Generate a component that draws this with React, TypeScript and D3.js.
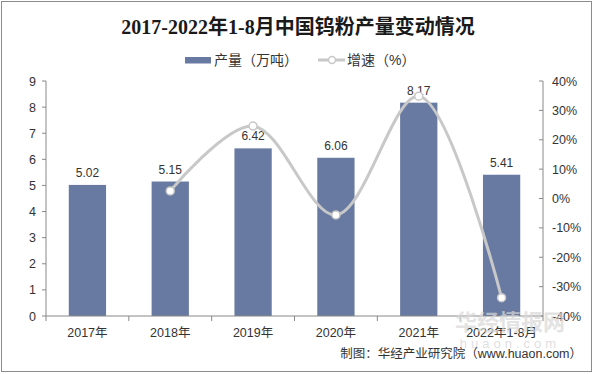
import React from 'react';
import * as d3 from 'd3';

const categories = ['2017年', '2018年', '2019年', '2020年', '2021年', '2022年1-8月'];
const output = [5.02, 5.15, 6.42, 6.06, 8.17, 5.41];
const growth = [null, 2.59, 24.66, -5.61, 34.82, -33.78];
const leftTicks = [0, 1, 2, 3, 4, 5, 6, 7, 8, 9];
const rightTicks = [-40, -30, -20, -10, 0, 10, 20, 30, 40];

const W = 595;
const H = 374;
const plot = { left: 46, right: 543, top: 81, bottom: 316 };
const barColor = '#687aa1';
const lineColor = '#c8c8c8';
const sans = 'Arial, "Liberation Sans", "Noto Sans CJK SC", sans-serif';
const serif = '"Liberation Serif", "DejaVu Serif", "Noto Sans CJK SC", serif';

const App: React.FC = () => {
  const x = d3.scaleBand<string>().domain(categories).range([plot.left, plot.right]).paddingInner(0.55).paddingOuter(0.275);
  const yL = d3.scaleLinear().domain([0, 9]).range([plot.bottom, plot.top]);
  const yR = d3.scaleLinear().domain([-40, 40]).range([plot.bottom, plot.top]);
  const step = x.step();
  const cx = (c: string) => (x(c) ?? 0) + x.bandwidth() / 2;

  const pts = categories
    .map((c, i) => ({ c, v: growth[i] }))
    .filter(d => d.v !== null) as { c: string; v: number }[];

  const line = d3.line<{ c: string; v: number }>()
    .x(d => cx(d.c))
    .y(d => yR(d.v))
    .curve(d3.curveCatmullRom.alpha(0.5));

  return (
    <svg width={W} height={H} style={{ position: 'absolute', left: 0, top: 0, background: '#fff' }}>
      <rect x={1.5} y={1.5} width={W - 5} height={H - 4} fill="#fff" stroke="#8c8c8c" strokeWidth={1} />
      <text x={298} y={34} textAnchor="middle" fontFamily={serif} fontSize={20} fontWeight="bold" fill="#1a1a1a">
        2017-2022年1-8月中国钨粉产量变动情况
      </text>

      {/* legend */}
      <rect x={185} y={57} width={26} height={6.5} fill={barColor} />
      <text x={214} y={65} fontFamily={sans} fontSize={14} fill="#333">产量（万吨）</text>
      <line x1={318} y1={60} x2={345} y2={60} stroke={lineColor} strokeWidth={3} />
      <circle cx={332} cy={60} r={3.5} fill="#fff" stroke={lineColor} strokeWidth={1.5} />
      <text x={347} y={65} fontFamily={sans} fontSize={14} fill="#333">增速（%）</text>

      {/* bars */}
      {categories.map((c, i) => (
        <g key={c}>
          <rect x={x(c)} y={yL(output[i])} width={x.bandwidth()} height={plot.bottom - yL(output[i])} fill={barColor} />
          <text x={cx(c)} y={yL(output[i]) - 8} textAnchor="middle" fontFamily={sans} fontSize={12} fill="#333">
            {output[i].toFixed(2)}
          </text>
        </g>
      ))}

      {/* left axis */}
      <line x1={plot.left} y1={plot.top} x2={plot.left} y2={plot.bottom} stroke="#888" />
      {leftTicks.map(t => (
        <g key={t}>
          <line x1={plot.left - 4} x2={plot.left} y1={yL(t)} y2={yL(t)} stroke="#888" />
          <text x={36} y={yL(t) + 4.5} textAnchor="end" fontFamily={sans} fontSize={12.5} fill="#333">{t}</text>
        </g>
      ))}

      {/* right axis */}
      <line x1={plot.right} y1={plot.top} x2={plot.right} y2={plot.bottom} stroke="#888" />
      {rightTicks.map(t => (
        <g key={t}>
          <line x1={plot.right - 4} x2={plot.right} y1={yR(t)} y2={yR(t)} stroke="#888" />
          <text x={552} y={yR(t) + 4.5} textAnchor="start" fontFamily={sans} fontSize={12.5} fill="#333">{t}%</text>
        </g>
      ))}

      {/* x axis */}
      <line x1={plot.left} y1={plot.bottom} x2={plot.right} y2={plot.bottom} stroke="#888" />
      {d3.range(categories.length + 1).map(i => (
        <line key={i} x1={plot.left + i * step} x2={plot.left + i * step} y1={plot.bottom} y2={plot.bottom + 5} stroke="#888" />
      ))}
      {categories.map(c => (
        <text key={c} x={cx(c)} y={337} textAnchor="middle" fontFamily={sans} fontSize={12.5} fill="#333">{c}</text>
      ))}

      {/* growth line */}
      <path d={line(pts) ?? ''} fill="none" stroke={lineColor} strokeWidth={3} />
      {pts.map(d => (
        <circle key={d.c} cx={cx(d.c)} cy={yR(d.v)} r={4} fill="#fff" stroke={lineColor} strokeWidth={1.5} />
      ))}

      {/* watermark */}
      <text x={510} y={330} textAnchor="middle" fontFamily={sans} fontSize={22} fontWeight="bold" fill="#d8d8d8" opacity={0.7}>华经情报网</text>
      <text x={510} y={348} textAnchor="middle" fontFamily={sans} fontSize={13} fill="#e0e0e0" letterSpacing={4}>huaon.com</text>

      <text x={582} y={358} textAnchor="end" fontFamily={sans} fontSize={12.5} fill="#333">
        制图：华经产业研究院（www.huaon.com）
      </text>
    </svg>
  );
};

export default App;
